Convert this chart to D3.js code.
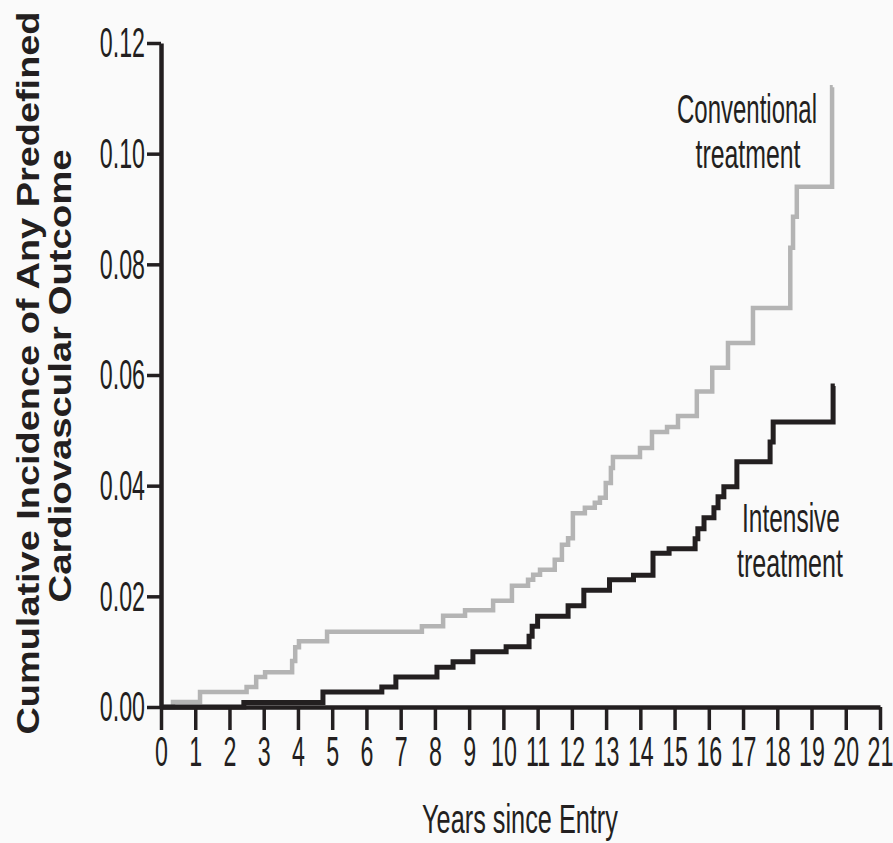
<!DOCTYPE html>
<html>
<head>
<meta charset="utf-8">
<script src="https://cdn.jsdelivr.net/npm/d3@7"></script>
<style>
  html, body { margin: 0; padding: 0; background: #fafafa; }
  svg { display: block; }
  text { font-family: "Liberation Sans", Arial, sans-serif; fill: #231f20; }
</style>
</head>
<body>
<div id="chart"></div>
<script>
// step points: [years, cumulative incidence]
const conventional = [
  [0, 0], [0.35, 0.0009], [1.14, 0.0027], [2.5, 0.0036], [2.78, 0.0054], [3.04, 0.0063],
  [3.83, 0.0083], [3.92, 0.0108], [4.03, 0.0119], [4.85, 0.0136], [7.62, 0.0146],
  [8.24, 0.0165], [8.88, 0.0175], [9.7, 0.0192], [10.25, 0.0219], [10.72, 0.0230],
  [10.87, 0.0239], [11.07, 0.0248], [11.5, 0.0266], [11.71, 0.0293], [11.89, 0.0305],
  [12.03, 0.0350], [12.38, 0.0360], [12.67, 0.0369], [12.82, 0.0378], [12.99, 0.0405],
  [13.14, 0.0432], [13.2, 0.0452], [13.99, 0.0468], [14.34, 0.0497], [14.78, 0.0506],
  [15.1, 0.0526], [15.65, 0.0570], [16.1, 0.0613], [16.56, 0.0658], [17.29, 0.0721],
  [18.38, 0.0830], [18.46, 0.0886], [18.57, 0.0940], [19.6, 0.1120], [19.62, 0.1120]
];
const intensive = [
  [0, 0], [2.42, 0.0008], [4.73, 0.0027], [6.45, 0.0036], [6.86, 0.0054], [8.06, 0.0072],
  [8.53, 0.0082], [9.11, 0.0100], [10.08, 0.0109], [10.75, 0.0128], [10.84, 0.0146],
  [11.0, 0.0164], [11.89, 0.0183], [12.35, 0.0211], [13.1, 0.0230], [13.8, 0.0238],
  [14.37, 0.0278], [14.84, 0.0286], [15.6, 0.0304], [15.68, 0.0322], [15.86, 0.0342],
  [16.15, 0.0360], [16.27, 0.0380], [16.44, 0.0398], [16.82, 0.0443], [17.79, 0.0479],
  [17.88, 0.0515], [19.63, 0.0580], [19.68, 0.0580]
];
const xTicks = d3.range(0, 22);
const yTicks = [0, 0.02, 0.04, 0.06, 0.08, 0.10, 0.12];

const width = 893, height = 843;

const svg = d3.select("#chart")
  .append("svg")
  .attr("width", width)
  .attr("height", height);

const x = d3.scaleLinear().domain([0, 21]).range([161, 880]);
const y = d3.scaleLinear().domain([0, 0.12]).range([707, 43]);

// the original uses a condensed face: squeeze each text to a target width
function squeeze(node, targetWidth) {
  const el = d3.select(node);
  const w = node.getComputedTextLength();
  const k = targetWidth / w;
  const x0 = +el.attr("x") || 0;
  const y0 = +el.attr("y") || 0;
  el.attr("x", 0).attr("y", 0)
    .attr("transform", `translate(${x0}, ${y0}) scale(${k}, 1)`);
}

const line = d3.line()
  .x(d => x(d[0]))
  .y(d => y(d[1]))
  .curve(d3.curveStepAfter);

svg.append("path")
  .datum(conventional)
  .attr("d", line)
  .attr("fill", "none")
  .attr("stroke", "#b4b4b4")
  .attr("stroke-width", 4.5);

svg.append("path")
  .datum(intensive)
  .attr("d", line)
  .attr("fill", "none")
  .attr("stroke", "#231f20")
  .attr("stroke-width", 5);

// axes
const gx = svg.append("g")
  .attr("transform", `translate(0, ${y(0)})`)
  .call(d3.axisBottom(x).tickValues(xTicks).tickSize(23).tickSizeOuter(0).tickPadding(5).tickFormat(d3.format("d")));

const gy = svg.append("g")
  .attr("transform", `translate(${x(0)}, 0)`)
  .call(d3.axisLeft(y).tickValues(yTicks).tickSize(14).tickSizeOuter(0).tickPadding(2).tickFormat(d3.format(".2f")));

[gx, gy].forEach(g => {
  g.select(".domain").attr("stroke", "#231f20").attr("stroke-width", 4.5);
  g.selectAll(".tick line").attr("stroke", "#231f20").attr("stroke-width", 3.5);
  g.selectAll(".tick text")
    .attr("fill", "#231f20")
    .style("font-size", "43px")
    .each(function() { squeeze(this, this.getComputedTextLength() * 0.54); });
});

// series labels
const labels = [
  { text: "Conventional", x: 747, y: 123, len: 140 },
  { text: "treatment", x: 748, y: 168, len: 105 },
  { text: "Intensive", x: 791, y: 532, len: 98 },
  { text: "treatment", x: 790, y: 577, len: 106 }
];
svg.selectAll(".series-label")
  .data(labels)
  .join("text")
  .attr("class", "series-label")
  .attr("x", d => d.x)
  .attr("y", d => d.y)
  .attr("text-anchor", "middle")
  .style("font-size", "41px")
  .text(d => d.text)
  .each(function(d) { squeeze(this, d.len); });

// x title
svg.append("text")
  .attr("x", 520)
  .attr("y", 833)
  .attr("text-anchor", "middle")
  .style("font-size", "40px")
  .text("Years since Entry")
  .each(function() { squeeze(this, 196); });

// y title, two lines
const yTitle = [
  { text: "Cumulative Incidence of Any Predefined", x: 39, c: 373, len: 723 },
  { text: "Cardiovascular Outcome", x: 71, c: 376, len: 453 }
];
svg.selectAll(".y-title")
  .data(yTitle)
  .join("text")
  .attr("class", "y-title")
  .attr("transform", d => `translate(${d.x}, ${d.c}) rotate(-90)`)
  .attr("text-anchor", "middle")
  .attr("textLength", d => d.len)
  .attr("lengthAdjust", "spacingAndGlyphs")
  .style("font-size", "32px")
  .style("font-weight", "bold")
  .text(d => d.text);
</script>
</body>
</html>
